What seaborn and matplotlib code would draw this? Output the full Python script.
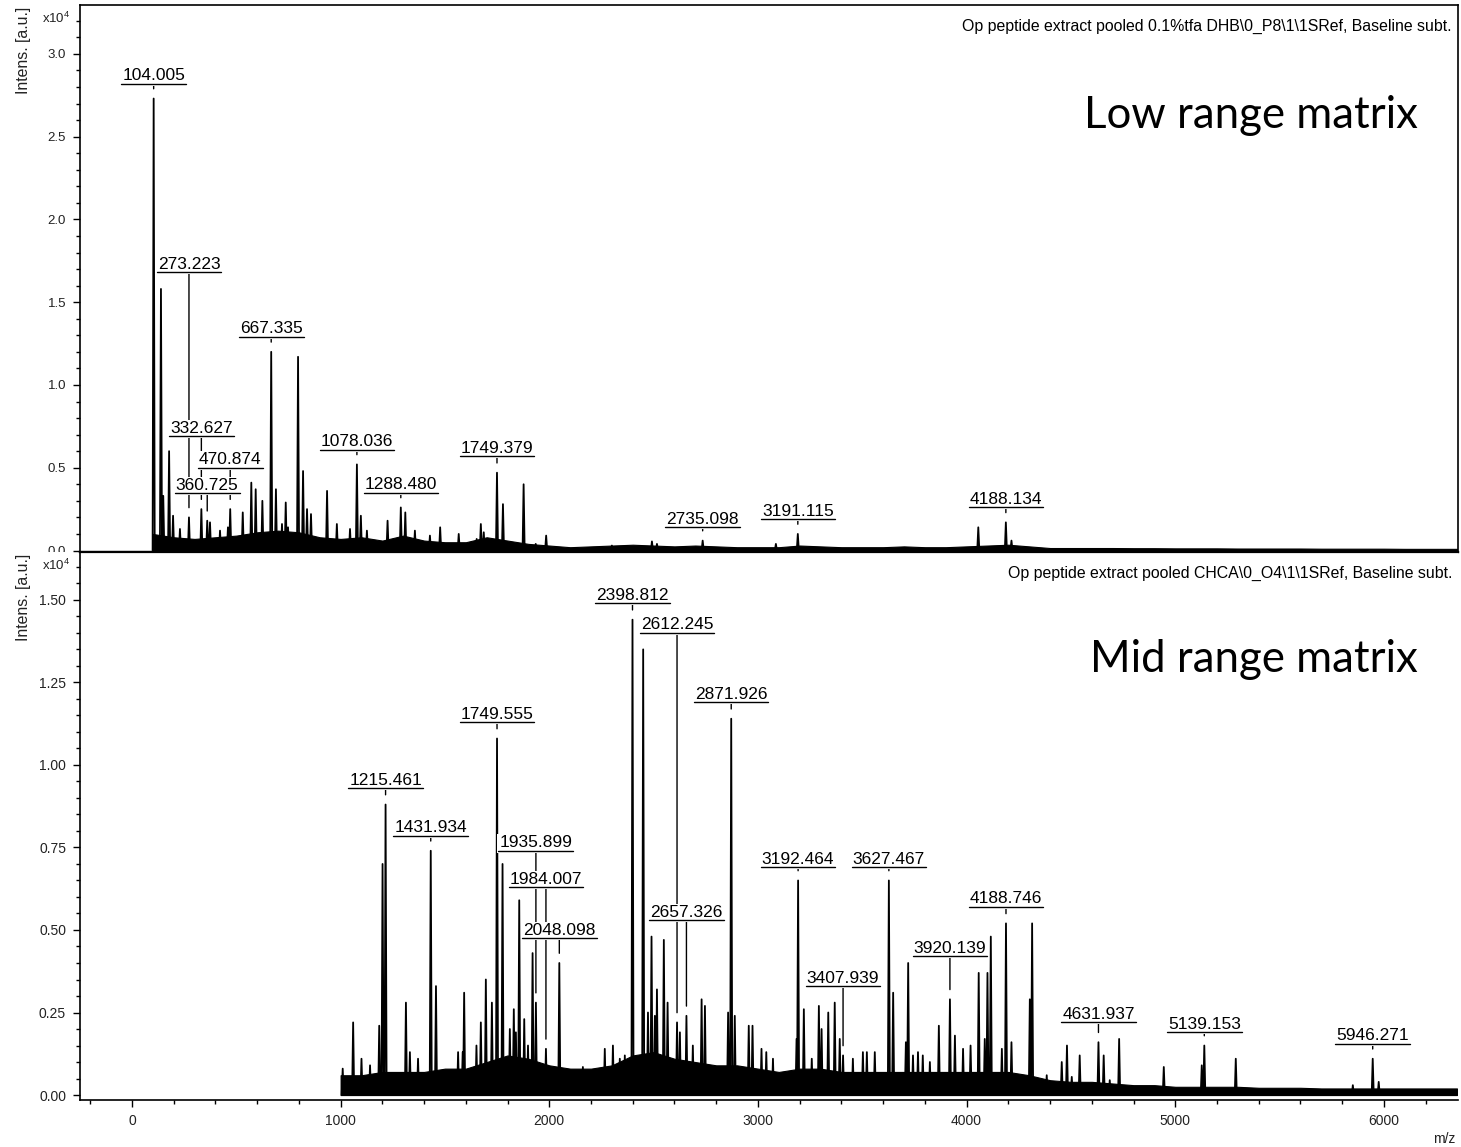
import numpy as np
import pandas as pd
import matplotlib
matplotlib.use("Agg")
import matplotlib.pyplot as plt
import seaborn as sns
from matplotlib.patches import Rectangle
from matplotlib.lines import Line2D
from matplotlib.transforms import IdentityTransform, ScaledTranslation, Bbox, TransformedBbox

# ---------------- data ----------------
# Top panel (Low range matrix, DHB)
top_env_mz = list(range(100, 6400, 100)) + [6350]
top_env_int = [0.10, 0.08, 0.07, 0.08, 0.09, 0.11, 0.12, 0.11, 0.08, 0.07,
               0.08, 0.06, 0.09, 0.06, 0.05, 0.05, 0.08, 0.06, 0.04, 0.03,
               0.02, 0.025, 0.03, 0.035, 0.03, 0.025, 0.03, 0.025, 0.02, 0.02,
               0.02, 0.03, 0.025, 0.02, 0.02, 0.02, 0.025, 0.02, 0.02, 0.025,
               0.03, 0.035, 0.025, 0.015, 0.015, 0.015, 0.015, 0.014, 0.014, 0.013,
               0.013, 0.013, 0.012, 0.012, 0.012, 0.012, 0.011, 0.011, 0.011, 0.011,
               0.010, 0.010, 0.010, 0.010]
top_peak_mz = [139, 150, 178, 197, 230, 374, 422, 460, 531, 572, 593, 625, 690,
               719, 737, 748, 796, 820, 839, 858, 935, 982, 1045, 1097, 1126,
               1225, 1310, 1356, 1428, 1477, 1566, 1652, 1672, 1686, 1778, 1877,
               1935, 1985, 2300, 2492, 2516, 3086, 4056, 4215]
top_peak_int = [1.58, 0.33, 0.60, 0.21, 0.13, 0.17, 0.12, 0.14, 0.23, 0.41, 0.37,
                0.30, 0.37, 0.16, 0.29, 0.14, 1.17, 0.48, 0.25, 0.22, 0.36, 0.16,
                0.13, 0.21, 0.12, 0.18, 0.23, 0.12, 0.09, 0.14, 0.10, 0.07, 0.16,
                0.11, 0.28, 0.40, 0.04, 0.09, 0.03, 0.055, 0.04, 0.04, 0.14, 0.06]
top_labels = ["104.005", "273.223", "332.627", "360.725", "470.874", "667.335",
              "1078.036", "1288.480", "1749.379", "2735.098", "3191.115", "4188.134"]
top_label_peak = [2.73, 0.20, 0.25, 0.18, 0.25, 1.20, 0.52, 0.26, 0.47, 0.06, 0.10, 0.17]
top_label_level = [2.82, 1.68, 0.69, 0.345, 0.50, 1.29, 0.61, 0.35, 0.57, 0.14, 0.19, 0.26]

# Bottom panel (Mid range matrix, CHCA)
bot_env_mz = list(range(1000, 6400, 100)) + [6350]
bot_env_int = [0.06, 0.06, 0.07, 0.07, 0.07, 0.08, 0.08, 0.10, 0.12, 0.11,
               0.09, 0.08, 0.08, 0.09, 0.12, 0.13, 0.11, 0.10, 0.09, 0.09,
               0.08, 0.07, 0.08, 0.08, 0.07, 0.07, 0.07, 0.07, 0.07, 0.07,
               0.07, 0.07, 0.07, 0.06, 0.045, 0.04, 0.04, 0.035, 0.03, 0.03,
               0.025, 0.025, 0.025, 0.025, 0.022, 0.022, 0.022, 0.02, 0.02, 0.02,
               0.02, 0.02, 0.02, 0.02, 0.02]
bot_peak_mz = [1010, 1060, 1100, 1141, 1185, 1201, 1313, 1332, 1371, 1457, 1563,
               1585, 1592, 1651, 1672, 1696, 1725, 1776, 1811, 1830, 1840, 1856,
               1880, 1898, 1920, 2161, 2266, 2305, 2338, 2362, 2450, 2473, 2490,
               2506, 2516, 2549, 2567, 2626, 2688, 2730, 2746, 2857, 2889, 2956,
               2974, 3017, 3040, 3072, 3185, 3220, 3258, 3292, 3305, 3337, 3368,
               3392, 3455, 3503, 3522, 3560, 3648, 3709, 3720, 3743, 3767, 3790,
               3824, 3867, 3944, 3983, 4019, 4058, 4087, 4100, 4116, 4169, 4215,
               4303, 4314, 4384, 4456, 4481, 4504, 4542, 4657, 4686, 4731, 4945,
               5127, 5290, 5851, 5975]
bot_peak_int = [0.08, 0.22, 0.11, 0.09, 0.21, 0.70, 0.28, 0.13, 0.11, 0.33, 0.13,
                0.13, 0.31, 0.15, 0.22, 0.35, 0.28, 0.70, 0.20, 0.26, 0.19, 0.59,
                0.23, 0.15, 0.43, 0.085, 0.14, 0.15, 0.11, 0.12, 1.35, 0.25, 0.48,
                0.24, 0.32, 0.47, 0.28, 0.19, 0.15, 0.29, 0.27, 0.25, 0.24, 0.21,
                0.21, 0.14, 0.13, 0.11, 0.17, 0.26, 0.11, 0.27, 0.20, 0.25, 0.28,
                0.17, 0.11, 0.13, 0.13, 0.13, 0.31, 0.16, 0.40, 0.12, 0.13, 0.12,
                0.10, 0.21, 0.18, 0.14, 0.15, 0.37, 0.17, 0.37, 0.48, 0.14, 0.16,
                0.29, 0.52, 0.06, 0.10, 0.15, 0.055, 0.12, 0.12, 0.045, 0.17, 0.085,
                0.09, 0.11, 0.03, 0.04]
bot_labels = ["1215.461", "1431.934", "1749.555", "1935.899", "1984.007", "2048.098",
              "2398.812", "2612.245", "2657.326", "2871.926", "3192.464", "3407.939",
              "3627.467", "3920.139", "4188.746", "4631.937", "5139.153", "5946.271"]
bot_label_peak = [0.88, 0.74, 1.08, 0.28, 0.14, 0.40, 1.44, 0.22, 0.24, 1.14, 0.65,
                  0.12, 0.65, 0.29, 0.52, 0.16, 0.15, 0.11]
bot_label_level = [0.93, 0.785, 1.13, 0.74, 0.63, 0.475, 1.49, 1.40, 0.53, 1.19,
                   0.69, 0.33, 0.69, 0.42, 0.57, 0.22, 0.19, 0.155]

top_title = "Op peptide extract pooled 0.1%tfa DHB\\0_P8\\1\\1SRef, Baseline subt."
bot_title = "Op peptide extract pooled CHCA\\0_O4\\1\\1SRef, Baseline subt."
top_name = "Low range matrix"
bot_name = "Mid range matrix"

# ---------------- style ----------------
sns.set_theme(style="ticks")
plt.rcParams['font.family'] = ['Liberation Sans', 'DejaVu Sans']
plt.rcParams['mathtext.fontset'] = 'custom'
plt.rcParams['mathtext.rm'] = 'Liberation Sans'
plt.rcParams['mathtext.it'] = 'Liberation Sans'
plt.rcParams['axes.edgecolor'] = 'black'
plt.rcParams['xtick.color'] = 'black'
plt.rcParams['ytick.color'] = 'black'

W, H = 1461, 1147
fig = plt.figure(figsize=(W / 100, H / 100), dpi=100)


def rect(x0, y0, x1, y1):
    return [x0 / W, 1 - y1 / H, (x1 - x0) / W, (y1 - y0) / H]


ax1 = fig.add_axes(rect(80, 5, 1458, 552))
ax2 = fig.add_axes(rect(80, 552, 1458, 1100), sharex=ax1)

TICK_COLOR = '#222222'


def draw_spectrum(ax, env_mz, env_int, pk_mz, pk_int, lab_mz, lab_int):
    ax.fill_between(env_mz, 0, env_int, color='black', lw=0.8, zorder=2)
    xs, ys = [], []
    allp = sorted(list(zip(pk_mz, pk_int)) + list(zip(lab_mz, lab_int)))
    for m, h in allp:
        xs += [m - 5, m, m + 5]
        ys += [0, h, 0]
    df = pd.DataFrame({"mz": xs, "intensity": ys})
    sns.lineplot(data=df, x="mz", y="intensity", ax=ax, color='black', lw=1.3,
                 estimator=None, sort=False, zorder=2)
    ax.set_xlabel("")
    ax.set_ylabel("")


top_lab_mz = [float(s) for s in top_labels]
bot_lab_mz = [float(s) for s in bot_labels]
draw_spectrum(ax1, top_env_mz, top_env_int, top_peak_mz, top_peak_int, top_lab_mz, top_label_peak)
draw_spectrum(ax2, bot_env_mz, bot_env_int, bot_peak_mz, bot_peak_int, bot_lab_mz, bot_label_peak)

# axes limits / ticks
ax1.set_xlim(-249, 6355)
ax1.set_ylim(-0.009, 3.295)
ax2.set_ylim(-0.015, 1.645)
ax2.set_xticks(range(0, 7000, 1000))
ax2.set_xticks(np.arange(-200, 6400, 200), minor=True)
ax1.set_yticks(np.arange(0, 3.01, 0.5))
ax1.set_yticks(np.arange(0, 3.25, 0.1), minor=True)
ax1.set_yticklabels([f"{v:.1f}" for v in np.arange(0, 3.01, 0.5)])
ax2.set_yticks(np.arange(0, 1.51, 0.25))
ax2.set_yticks(np.arange(0, 1.62, 0.05), minor=True)
ax2.set_yticklabels([f"{v:.2f}" for v in np.arange(0, 1.51, 0.25)])
ax2.set_xticklabels([str(v) for v in range(0, 7000, 1000)])

for ax, ls in ((ax1, 9.5), (ax2, 10)):
    ax.tick_params(axis='y', which='major', direction='out', length=5, width=1.0,
                   labelsize=ls, pad=5, labelcolor=TICK_COLOR, left=True)
    ax.tick_params(axis='y', which='minor', direction='out', length=2.6, width=1.0, left=True)
    ax.set_facecolor('white')
ax1.tick_params(axis='x', which='both', bottom=False, labelbottom=False)
ax2.tick_params(axis='x', which='major', direction='out', length=5, width=1.0,
                labelsize=10, pad=5, labelcolor=TICK_COLOR, bottom=True)
ax2.tick_params(axis='x', which='minor', direction='out', length=3, width=1.0, bottom=True)

for s in ax1.spines.values():
    s.set_linewidth(1.2)
ax1.spines['bottom'].set_linewidth(1.6)
ax2.spines['right'].set_visible(False)
ax2.spines['left'].set_linewidth(1.2)
ax2.spines['bottom'].set_linewidth(1.2)
ax2.spines['top'].set_linewidth(1.6)

# texts
for ax, title, name, namey in ((ax1, top_title, top_name, 0.775), (ax2, bot_title, bot_name, 0.781)):
    ax.text(1, 1, title, transform=ax.transAxes + ScaledTranslation(-6 / 100, -26 / 100, fig.dpi_scale_trans),
            ha='right', va='baseline', fontsize=11.4, color='black')
    ax.text(0.971, namey, name, transform=ax.transAxes, ha='right', va='baseline',
            fontsize=31.5, family=['Lato', 'DejaVu Sans'], color='black')
    ax.text(0, 1, "x10$^{\\mathregular{4}}$",
            transform=ax.transAxes + ScaledTranslation(-10 / 100, -6 / 100, fig.dpi_scale_trans),
            ha='right', va='top', fontsize=9.5, color=TICK_COLOR)
    ax.text(0, 1, "Intens. [a.u.]", rotation=90,
            transform=ax.transAxes + ScaledTranslation(-64 / 100, -2 / 100, fig.dpi_scale_trans),
            ha='left', va='top', fontsize=11.4, color=TICK_COLOR)

fig.text(1455 / W, 1 - 1143 / H, "m/z", ha='right', va='baseline', fontsize=10, color=TICK_COLOR)

# peak labels
lab_items = []


def label_peaks(ax, mzs, peaks, levels, texts):
    for m, p, l, s in zip(mzs, peaks, levels, texts):
        ax.annotate("", xy=(m, p), xytext=(m, l),
                    arrowprops=dict(arrowstyle='-', color='black', lw=1.0,
                                    shrinkA=0, shrinkB=7), zorder=3)
        t = ax.text(m, l, s, ha='center', va='baseline', fontsize=12.5, zorder=7,
                    color='black',
                    transform=ax.transData + ScaledTranslation(0, 3.5 / 100, fig.dpi_scale_trans))
        lab_items.append((ax, t, m, l))


label_peaks(ax1, top_lab_mz, top_label_peak, top_label_level, top_labels)
label_peaks(ax2, bot_lab_mz, bot_label_peak, bot_label_level, bot_labels)

fig.canvas.draw()
renderer = fig.canvas.get_renderer()
for ax, t, m, l in lab_items:
    bb = t.get_window_extent(renderer)
    yl = ax.transData.transform((m, l))[1]
    mask = Rectangle((bb.x0 - 2, yl - 2), bb.width + 4, bb.y1 - yl + 3,
                     transform=IdentityTransform(), facecolor='white', edgecolor='none', zorder=5)
    ax.add_artist(mask)
    ul = Line2D([bb.x0 - 1, bb.x1 + 1], [yl, yl], transform=IdentityTransform(),
                color='black', lw=1.0, zorder=6)
    ax.add_artist(ul)

# clip the top panel's tick labels at the panel boundary
clipbb = TransformedBbox(Bbox.from_extents(0, 1 - 552 / H, 1, 1), fig.transFigure)
for lab in ax1.get_yticklabels():
    lab.set_clip_box(clipbb)
    lab.set_clip_on(True)

fig.savefig("out.png", dpi=100)
